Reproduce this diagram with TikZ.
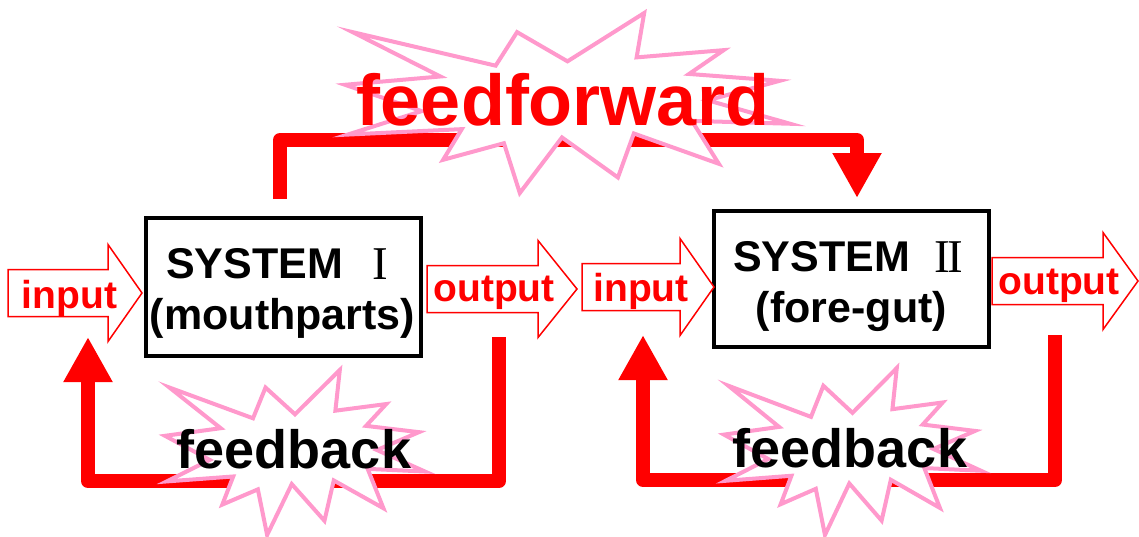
\documentclass[tikz,border=0pt]{standalone}
\usepackage{fontspec}
\setmainfont{Liberation Sans}
\newfontfamily\romanfont{Liberation Serif}
\usetikzlibrary{arrows.meta}

\definecolor{burstpink}{RGB}{255,153,204}

\tikzset{
  loopline/.style={draw=red, line width=14pt, line join=round,
    -{Triangle[length=45pt,width=46pt]}},
  burst/.style={draw=burstpink, fill=white, line width=4pt},
  blockarrow/.style={draw=red, fill=white, line width=1.5pt},
  sysbox/.style={draw=black, line width=4.5pt, minimum width=275pt,
    minimum height=138pt, inner sep=0pt},
  lbl/.style={inner sep=0pt, anchor=base, font=\bfseries\fontsize{#1}{#1}\selectfont},
  numeral/.style={inner sep=0pt, anchor=base, font=\romanfont\fontsize{47}{47}\selectfont},
}

% hollow block arrow: tail x, centre y, head x, tip x
\newcommand{\blockarrow}[4]{%
  \draw[blockarrow] (#1,#2-23.5) -- (#3,#2-23.5) -- (#3,#2-48.5) -- (#4,#2)
    -- (#3,#2+48.5) -- (#3,#2+23.5) -- (#1,#2+23.5) -- cycle;}

% explosion outline: top left corner, width, height
\newcommand{\explosion}[3]{%
  \draw[burst, shift={#1}, xscale=#2/216, yscale=#3/216]
    (108,58) -- (145.22,0) -- (141.55,53.25) -- (183.8,44.57) -- (167.02,73.15)
    -- (210.97,81.37) -- (176.07,104.75) -- (216,132.9) -- (168.37,129.42)
    -- (181.45,180.95) -- (140.2,144.57) -- (132.47,197.37) -- (105.32,149.35)
    -- (84.85,216) -- (77.15,156.27) -- (47.62,176.17) -- (56.67,139.37)
    -- (1.35,145.87) -- (37.22,117.75) -- (0,86.15) -- (46.27,76.17)
    -- (3.7,22.95) -- (73.12,63.2) -- (83.52,22.95) -- cycle;}

\begin{document}
\begin{tikzpicture}[x=1pt, y=-1pt]

\useasboundingbox (0,0) rectangle (1139,536);

\coordinate (ffstart) at (280,199);
\coordinate (ffend) at (857,198);
\coordinate (fbAstart) at (499,337);
\coordinate (fbAend) at (88,337);
\coordinate (fbBstart) at (1055,335);
\coordinate (fbBend) at (643,335);

% the two systems
\node[sysbox] (sysA) at (283.5,287) {};
\node[sysbox, minimum height=136pt] (sysB) at (851.5,279) {};

\blockarrow{8}{293}{108}{142}
\blockarrow{427}{289}{538}{577}
\blockarrow{582}{287}{680}{714}
\blockarrow{992}{281}{1103}{1138}

% loops
\draw[loopline] (ffstart) -- ++(0,-59) -| (ffend);
\draw[loopline] (fbAstart) -- ++(0,144) -| (fbAend);
\draw[loopline] (fbBstart) -- ++(0,145) -| (fbBend);

\explosion{(345,13)}{445}{180}
\explosion{(165,370)}{260}{165}
\explosion{(724,368)}{257}{167}

\node[lbl=39, text=red] (inA) at (69.5,308) {input};
\node[lbl=39, text=red] (outA) at (494,301) {output};
\node[lbl=39, text=red] (inB) at (641,301) {input};
\node[lbl=39, text=red] (outB) at (1059,294) {output};

\node[lbl=43] (sysAname) at (254.5,278) {SYSTEM};
\node[numeral] (sysAnum) at (380.5,279) {I};
\node[lbl=43] (sysApart) at (282.5,329) {(mouthparts)};
\node[lbl=43] (sysBname) at (821.5,271) {SYSTEM};
\node[numeral] (sysBnum) at (948.5,272) {I\kern-2.5pt I};
\node[lbl=43] (sysBpart) at (851.5,322) {(fore-gut)};

\node[lbl=72, text=red] (fflabel) at (563,125) {feedforward};
\node[lbl=54] (fbAlabel) at (294,468) {feedback};
\node[lbl=54] (fbBlabel) at (850,467) {feedback};

\end{tikzpicture}
\end{document}
